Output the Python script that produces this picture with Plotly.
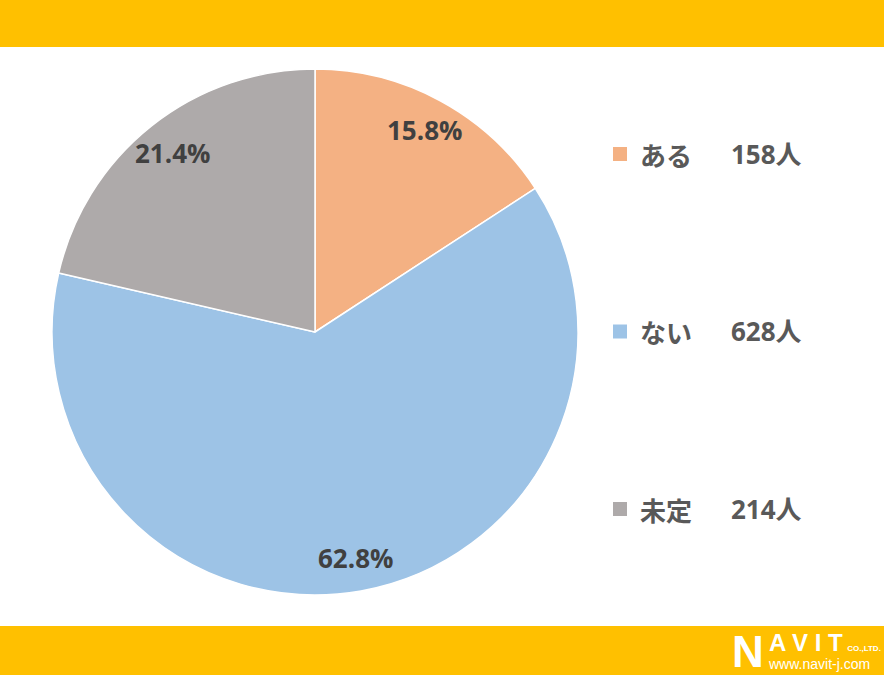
import math
import plotly.graph_objects as go

W, H = 884, 677

labels = ["ある", "ない", "未定"]
counts = [158, 628, 214]
colors = ["#F4B183", "#9DC3E6", "#AEAAAA"]
count_suffix = "人"

band_color = "#FFC000"
text_color = "#404040"
legend_text_color = "#595959"

# geometry (pixels)
cx, cy, r = 315, 332, 263
label_frac = 0.872

def px(x):
    return x / W

def py(y):
    return 1 - y / H

fig = go.Figure()
fig.add_trace(go.Pie(
    labels=labels,
    values=counts,
    sort=False,
    direction="clockwise",
    rotation=0,
    marker=dict(colors=colors, line=dict(color="white", width=1.5)),
    textinfo="none",
    hoverinfo="label+value+percent",
    showlegend=False,
    domain=dict(x=[px(cx - r), px(cx + r)], y=[py(cy + r), py(cy - r)]),
))

annotations = []
shapes = []

# percentage labels placed along slice mid-angles
total = sum(counts)
cum = 0
for v in counts:
    mid = (cum + v / 2) / total * 2 * math.pi
    cum += v
    d = label_frac * r
    lx = cx + d * math.sin(mid)
    ly = cy - d * math.cos(mid)
    annotations.append(dict(
        x=px(lx), y=py(ly), xref="paper", yref="paper",
        text=f"{v / total * 100:.1f}%", showarrow=False,
        font=dict(family="Open Sans, Noto Sans CJK JP", size=26, color=text_color, weight="bold"),
        xanchor="center", yanchor="middle",
    ))

# legend (custom, right side)
leg_y0, leg_dy = 154, 177.5
for i, (lab, v, c) in enumerate(zip(labels, counts, colors)):
    yy = leg_y0 + i * leg_dy
    shapes.append(dict(type="rect", xref="paper", yref="paper",
                       x0=px(613), x1=px(627), y0=py(yy + 7), y1=py(yy - 7),
                       fillcolor=c, line=dict(width=0)))
    annotations.append(dict(
        x=px(638), y=py(yy), xref="paper", yref="paper", text=lab, showarrow=False,
        font=dict(family="Noto Sans CJK JP", size=26, color=legend_text_color, weight="bold"),
        xanchor="left", yanchor="middle",
    ))
    annotations.append(dict(
        x=px(804), y=py(yy), xref="paper", yref="paper", text=f"{v}{count_suffix}", showarrow=False,
        font=dict(family="Open Sans, Noto Sans CJK JP", size=26, color=legend_text_color, weight="bold"),
        xanchor="right", yanchor="middle",
    ))

# top and bottom bands
shapes.append(dict(type="rect", xref="paper", yref="paper", x0=0, x1=1, y0=py(47), y1=1,
                   fillcolor=band_color, line=dict(width=0), layer="below"))
shapes.append(dict(type="rect", xref="paper", yref="paper", x0=0, x1=1, y0=py(675), y1=py(626),
                   fillcolor=band_color, line=dict(width=0), layer="below"))

# logo text
annotations += [
    dict(x=px(731), y=py(651), xref="paper", yref="paper", text="N", showarrow=False,
         font=dict(family="Liberation Sans", size=44, color="white", weight="bold"),
         xanchor="left", yanchor="middle", borderpad=0),
    dict(x=px(767), y=py(650), xref="paper", yref="paper",
         text="<span style='font-size:24px;font-weight:bold'>A V I T</span>"
              "<span style='font-size:8px;font-weight:bold'>  CO.,LTD.</span>"
              "<br>www.navit-j.com",
         showarrow=False, align="left",
         font=dict(family="Liberation Sans", size=14, color="white"),
         xanchor="left", yanchor="middle", borderpad=0),
]

fig.update_layout(
    width=W, height=H,
    margin=dict(l=0, r=0, t=0, b=0),
    paper_bgcolor="white", plot_bgcolor="white",
    shapes=shapes, annotations=annotations,
)

fig.write_html(
    "out.html",
    config={"displayModeBar": False},
    post_script="document.body.style.margin='0px';document.body.style.overflow='hidden';",
)
